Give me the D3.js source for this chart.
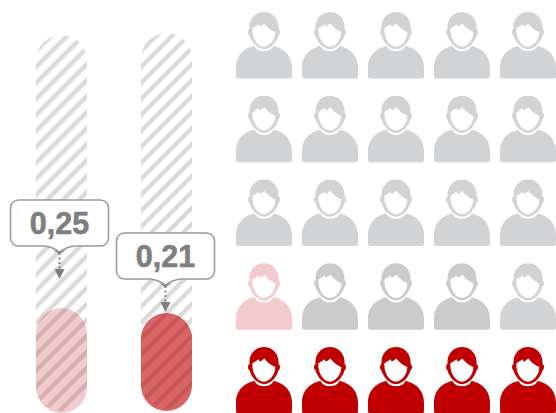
<!DOCTYPE html>
<html>
<head>
<meta charset="utf-8">
<script src="https://cdnjs.cloudflare.com/ajax/libs/d3/7.8.5/d3.min.js"></script>
<style>
    html, body { margin: 0; padding: 0; background: #fff; overflow: hidden; }
    svg { display: block; }
</style>
</head>
<body>
<script>
var barValues = [0.25, 0.21];
var barLabels = ["0,25", "0,21"];
var barOpacity = [0.2, 0.6];

var rowOne = ["grey", "grey", "grey", "grey", "grey"];
var rowTwo = ["grey", "grey", "grey", "grey", "grey"];
var rowThree = ["grey", "grey", "grey", "grey", "grey"];
var rowFour = ["pale", "mid", "mid", "mid", "grey"];
var rowFive = ["red", "red", "red", "red", "red"];

window.onload = function(){

    var w = 556, h = 413;
    var red = "#c00000", textGrey = "#7f7f7f";
    var barWidth = 51;

    var container = d3.select("body")
        .append("svg")
        .attr("width", w)
        .attr("height", h);

    var defs = container.append("defs");

    var pattern = defs.append("pattern")
        .attr("id", "stripes")
        .attr("patternUnits", "userSpaceOnUse")
        .attr("width", 11.3)
        .attr("height", 11.3)
        .attr("patternTransform", "rotate(45)");
    pattern.append("rect")
        .attr("width", 4.4)
        .attr("height", 11.3)
        .attr("fill", "#dadada");

    // bars
    var x = d3.scalePoint()
        .domain(d3.range(barValues.length))
        .range([36, 141]);

    var fillHeight = d3.scaleLinear()
        .domain([0.21, 0.25])
        .range([98, 105]);

    // where the callout arrow lands
    var arrowY = d3.scaleLinear()
        .domain([0.21, 0.25])
        .range([312, 279]);

    var bars = container.selectAll(".bar")
        .data(barValues)
        .enter()
        .append("g")
        .attr("class", "bar")
        .attr("transform", function(d, i){
            return "translate(" + x(i) + ",0)";
        });

    bars.append("rect")
        .attr("y", function(d, i){ return 35 - 2 * i; })
        .attr("width", barWidth)
        .attr("height", 376)
        .attr("rx", barWidth / 2)
        .attr("fill", "url(#stripes)");

    bars.append("rect")
        .attr("y", function(d, i){ return 413 - 2 * i - fillHeight(d); })
        .attr("width", barWidth)
        .attr("height", function(d){ return fillHeight(d); })
        .attr("rx", barWidth / 2)
        .attr("fill", red)
        .attr("opacity", function(d, i){ return barOpacity[i]; });

    // callouts
    var callouts = container.selectAll(".callout")
        .data(barValues)
        .enter()
        .append("g")
        .attr("class", "callout")
        .attr("transform", function(d, i){
            return "translate(" + (x(i) + barWidth / 2 - 2 + i) + "," + arrowY(d) + ")";
        });

    callouts.append("line")
        .attr("y1", -26)
        .attr("y2", -8)
        .attr("stroke", textGrey)
        .attr("stroke-width", 2)
        .attr("stroke-dasharray", "2 2.5");

    callouts.append("path")
        .attr("d", "M0,0L-5,-10L5,-10Z")
        .attr("fill", textGrey);

    callouts.append("path")
        .attr("d", "M-49,-71 a8,8 0 0 1 8,-8 h82 a8,8 0 0 1 8,8 v30 a8,8 0 0 1 -8,8 h-26 q-8,1 -15,6 q-7,-5 -15,-6 h-26 a8,8 0 0 1 -8,-8 Z")
        .attr("fill", "#fff")
        .attr("stroke", "#999")
        .attr("stroke-width", 1.5);

    callouts.append("path")
        .attr("d", "M-7,-29 L0,-25 L7,-29 L0,-27 Z")
        .attr("fill", textGrey);

    callouts.append("text")
        .attr("text-anchor", "middle")
        .attr("y", -45)
        .attr("font-family", "'Liberation Sans', Arial, sans-serif")
        .attr("font-weight", "bold")
        .attr("font-size", 30.5)
        .attr("fill", textGrey)
        .attr("stroke", textGrey)
        .attr("stroke-width", 0.6)
        .text(function(d, i){ return barLabels[i]; });

    // people
    var rows = [rowOne, rowTwo, rowThree, rowFour, rowFive];
    var personColor = d3.scaleOrdinal()
        .domain(["grey", "mid", "pale", "red"])
        .range(["#d1d3d4", "#cbcbcb", "#f2cccc", red]);

    var col = d3.scalePoint().domain(d3.range(5)).range([236, 500]);
    var row = d3.scalePoint().domain(d3.range(5)).range([12, 347]);

    var head = "M28,0 C36,0 42,6 42.5,14 L42.5,17 C44.5,18 44.5,22 42.5,23.5 C41,29 36,36.5 28,37.2 "
        + "C20,36.5 15,29 13.5,23.5 C11.5,22 11.5,18 13.5,17 L13.5,14 C14,6 20,0 28,0 Z "
        + "M16.3,16.5 C18,15 20.5,14 22.3,12.2 L23.7,14.5 C25.5,14 27,12.5 28.3,11.5 "
        + "C31,15 35,18.5 39.3,20 C39.5,27 34,34.7 28,34.7 C22,34.7 16,27 16.3,16.5 Z";
    var body = "M18.5,34 C20,37.5 24,39.2 28,39.2 C32,39.2 36,37.5 37.5,34 "
        + "C46,35.5 56,42 56,56 L56,64 Q56,66.5 53,66.5 L3,66.5 Q0,66.5 0,64 L0,56 C0,42 10,35.5 18.5,34 Z";

    var people = container.selectAll(".row")
        .data(rows)
        .enter()
        .append("g")
        .attr("class", "row")
        .attr("transform", function(d, i){
            return "translate(0," + row(i) + ")";
        })
        .selectAll(".person")
        .data(function(d){ return d; })
        .enter()
        .append("path")
        .attr("class", "person")
        .attr("transform", function(d, i){
            return "translate(" + col(i) + ",0)";
        })
        .attr("d", head + " " + body)
        .attr("fill-rule", "evenodd")
        .attr("fill", function(d){ return personColor(d); });
};
</script>
</body>
</html>
